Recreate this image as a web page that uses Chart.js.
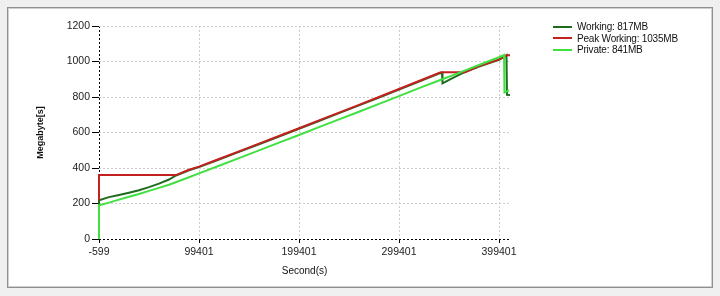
<!DOCTYPE html>
<html lang="en">
  <head>
    <meta charset="UTF-8" />
    <title>Memory</title>
    <script src="https://cdn.jsdelivr.net/npm/chart.js"></script>
    <style>
      body { margin: 0; background: #f0f0f0; font-family: "Liberation Sans", Arial, sans-serif; }
      .painel {
        position: absolute; left: 7px; top: 7px; width: 706px; height: 281px;
        box-sizing: border-box; background: #fff;
        border: 1px solid #8f8f8f; box-shadow: inset 0 0 0 1px #d0d0d0;
      }
      #grafico { position: absolute; left: 0; top: 0; }
      .legenda { position: absolute; left: 553px; top: 21px; font-size: 10px; letter-spacing: -0.2px; color: #111; }
      .item { height: 11.5px; line-height: 11.5px; white-space: nowrap; }
      .item span.linha { display: inline-block; width: 19px; height: 2px; vertical-align: middle; margin-right: 5px; margin-top: -1px; }
    </style>
  </head>
  <body>
    <div class="painel"></div>
    <canvas id="grafico" width="720" height="296"></canvas>
    <div class="legenda" id="legenda"></div>

    <script>
      // eixo x (segundos) e ticks
      var xTicks = [-599, 99401, 199401, 299401, 399401];
      var yTicks = [0, 200, 400, 600, 800, 1000, 1200];

      var nomes = ["Working: 817MB", "Peak Working: 1035MB", "Private: 841MB"];
      var cores = ["#1f6b1f", "#c42020", "#3fe03f"];

      var workingTime = [-599, -599, 9401, 19401, 29401, 39401, 49401, 59401, 69401, 76401, 89401, 99401,
        119401, 139401, 159401, 179401, 199401, 219401, 239401, 259401, 279401, 299401, 319401, 339401,
        342401, 342901, 352401, 362401, 365401, 379401, 399401, 405401, 406901, 407401, 410401];
      var workingMB = [0, 218, 236, 248, 261, 275, 292, 312, 335, 358, 387, 405,
        448, 491, 534, 577, 621, 665, 709, 753, 797, 842, 887, 932,
        936, 877, 905, 933, 940, 972, 1010, 1029, 1035, 812, 811];

      var peakTime = [-599, -599, 76401, 89401, 99401, 119401, 139401, 159401, 179401, 199401, 219401,
        239401, 259401, 279401, 299401, 319401, 339401, 341401, 365401, 379401, 399401, 405401, 406901, 410401];
      var peakMB = [218, 360, 360, 390, 408, 451, 494, 537, 580, 624, 668,
        712, 756, 800, 845, 890, 935, 939, 940, 974, 1012, 1030, 1035, 1035];

      var privateTime = [-599, -599, 9401, 19401, 29401, 39401, 49401, 59401, 69401, 79401, 89401, 99401,
        119401, 139401, 159401, 179401, 199401, 219401, 239401, 259401, 279401, 299401, 319401, 339401,
        359401, 379401, 399401, 404401, 404901, 409401];
      var privateMB = [0, 190, 205, 222, 238, 254, 271, 288, 306, 327, 348, 370,
        413, 456, 499, 543, 586, 630, 674, 717, 761, 805, 850, 893,
        936, 980, 1024, 1036, 826, 838];

      function pontos(t, v) {
        return t.map(function (x, i) { return { x: x, y: v[i] }; });
      }

      // legenda em html
      var leg = document.getElementById("legenda");
      nomes.forEach(function (n, i) {
        var d = document.createElement("div");
        d.className = "item";
        d.innerHTML = '<span class="linha" style="background:' + cores[i] + '"></span>' + n;
        leg.appendChild(d);
      });

      Chart.defaults.font.family = '"Liberation Sans", Arial, sans-serif';
      Chart.defaults.color = "#222";

      var ctx = document.getElementById("grafico");
      new Chart(ctx, {
        type: "line",
        data: {
          datasets: [
            { label: nomes[0], data: pontos(workingTime, workingMB), borderColor: cores[0], order: 2, clip: 6 },
            { label: nomes[1], data: pontos(peakTime, peakMB), borderColor: cores[1], order: 1, clip: 6 },
            { label: nomes[2], data: pontos(privateTime, privateMB), borderColor: cores[2], order: 0, clip: 6 },
          ],
        },
        options: {
          responsive: false,
          animation: false,
          layout: { padding: { left: 0, top: 26, right: 210, bottom: 0 } },
          elements: {
            point: { radius: 0 },
            line: { borderWidth: 2, tension: 0 },
          },
          plugins: { legend: { display: false }, tooltip: { enabled: false } },
          scales: {
            x: {
              type: "linear",
              min: -599,
              max: 410401,
              afterBuildTicks: function (s) {
                s.ticks = xTicks.map(function (v) { return { value: v }; });
              },
              afterFit: function (s) { s.height = 57; },
              ticks: {
                font: { size: 10.5 },
                padding: 3,
                maxRotation: 0,
                callback: function (v) { return String(v); },
              },
              grid: {
                color: function (c) { return c.tick && c.tick.value === -599 ? "#000" : "#cccccc"; },
                tickColor: "#000",
                tickLength: 4,
                tickBorderDash: [],
              },
              border: { display: false, dash: [2, 2] },
              title: {
                display: true,
                text: "Second(s)",
                color: "#111",
                font: { size: 10 },
                padding: { top: 0, bottom: 19 },
              },
            },
            y: {
              min: 0,
              max: 1200,
              afterBuildTicks: function (s) {
                s.ticks = yTicks.map(function (v) { return { value: v }; });
              },
              afterFit: function (s) { s.width = 99; },
              ticks: {
                font: { size: 10.5 },
                padding: 2,
                callback: function (v) { return String(v); },
              },
              grid: {
                color: function (c) { return c.tick && c.tick.value === 0 ? "#000" : "#cccccc"; },
                tickColor: "#000",
                tickLength: 7,
                tickBorderDash: [],
              },
              border: { display: false, dash: [2, 2] },
              title: {
                display: true,
                text: "Megabyte[s]",
                color: "#111",
                font: { size: 9, weight: "bold" },
                padding: { top: 35, bottom: 0 },
              },
            },
          },
        },
      });
    </script>
  </body>
</html>
